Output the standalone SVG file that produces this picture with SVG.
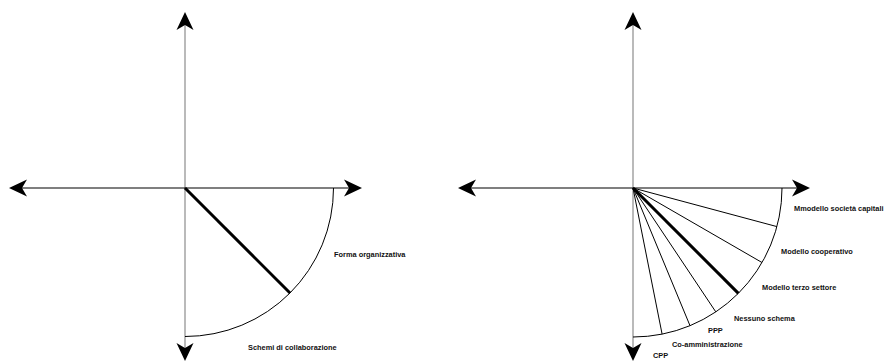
<svg xmlns="http://www.w3.org/2000/svg" width="886" height="362" viewBox="0 0 886 362">
<style>
.bg{fill:#fff}
.vax{stroke:#8c8c8c;stroke-width:1.2;fill:none}
.hax{stroke:#000;stroke-width:1.2;fill:none}
.arc{stroke:#000;stroke-width:1;fill:none}
.ray{stroke:#000;stroke-width:1;fill:none}
.thick{stroke:#000;stroke-width:3;fill:none}
.ah{fill:#000}
text{font-family:"Liberation Sans",Arial,sans-serif;font-size:7.4px;font-weight:bold;fill:#111}
</style>
<defs>
<path id="ah" class="ah" d="M0,0 L-18,-8.5 L-13,0 L-18,8.5 Z"/>
</defs>
<rect class="bg" x="0" y="0" width="886" height="362"/>

<g id="left-diagram">
<g id="left-axes">
<line class="vax" x1="185" y1="18" x2="185" y2="355"/>
<line class="hax" x1="14" y1="188" x2="356" y2="188"/>
<use href="#ah" transform="translate(185,12) rotate(-90)"/>
<use href="#ah" transform="translate(185,361) rotate(90)"/>
<use href="#ah" transform="translate(9,188) rotate(180)"/>
<use href="#ah" transform="translate(362,188)"/>
</g>
<g id="left-connectors">
<path class="arc" d="M333.5,188 A148.5,148.5 0 0 1 185,336.5"/>
<line class="thick" x1="185" y1="188" x2="290" y2="293"/>
</g>
<g id="left-labels">
<text x="334" y="257">Forma organizzativa</text>
<text x="248" y="350">Schemi di collaborazione</text>
</g>
</g>

<g id="right-diagram">
<g id="right-axes">
<line class="vax" x1="633" y1="18" x2="633" y2="355"/>
<line class="hax" x1="463" y1="188" x2="805" y2="188"/>
<use href="#ah" transform="translate(633,12) rotate(-90)"/>
<use href="#ah" transform="translate(633,361) rotate(90)"/>
<use href="#ah" transform="translate(458,188) rotate(180)"/>
<use href="#ah" transform="translate(810,188)"/>
</g>
<g id="right-connectors">
<path class="arc" d="M782,188 A149,149 0 0 1 633,337"/>
<line class="ray" x1="633" y1="188" x2="776.9" y2="226.6"/>
<line class="ray" x1="633" y1="188" x2="762" y2="262.5"/>
<line class="thick" x1="633" y1="188" x2="738.4" y2="293.4"/>
<line class="ray" x1="633" y1="188" x2="715.8" y2="311.9"/>
<line class="ray" x1="633" y1="188" x2="690" y2="325.7"/>
<line class="ray" x1="633" y1="188" x2="662.1" y2="334.1"/>
</g>
<g id="right-labels">
<text x="794" y="211">Mmodello società capitali</text>
<text x="781" y="254">Modello cooperativo</text>
<text x="762" y="290">Modello terzo settore</text>
<text x="734" y="321">Nessuno schema</text>
<text x="708" y="333">PPP</text>
<text x="672" y="347">Co-amministrazione</text>
<text x="653" y="358">CPP</text>
</g>
</g>
</svg>
